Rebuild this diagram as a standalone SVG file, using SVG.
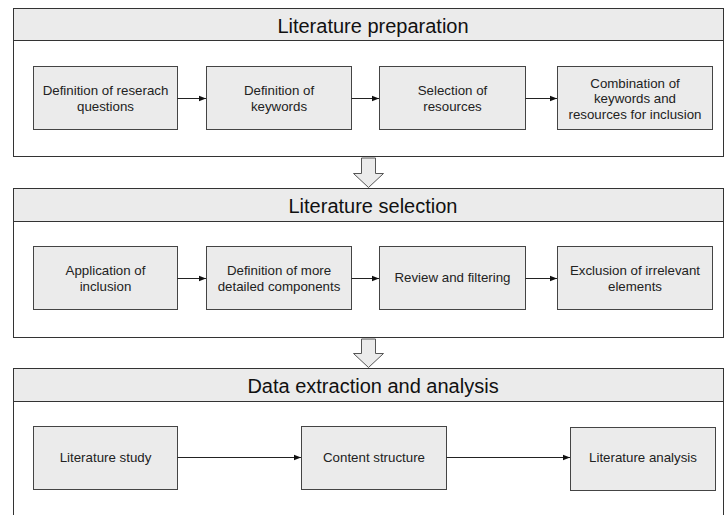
<svg xmlns="http://www.w3.org/2000/svg" width="725" height="515" viewBox="0 0 725 515">
  <defs>
    <marker id="arr" viewBox="0 0 10 10" refX="10" refY="5" markerWidth="7" markerHeight="7" markerUnits="userSpaceOnUse" orient="auto">
      <path d="M0,1 L10,5 L0,9 Z" fill="#111"/>
    </marker>
    <style>
      .frame { fill: #ffffff; stroke: #333; stroke-width: 1; }
      .head { fill: #ebebeb; stroke: #333; stroke-width: 1; }
      .box { fill: #ebebeb; stroke: #444; stroke-width: 1; }
      .title { font-family: "Liberation Sans", Arial, sans-serif; font-size: 20px; fill: #111; text-anchor: middle; }
      .lbl { font-family: "Liberation Sans", Arial, sans-serif; font-size: 13.3px; fill: #222; text-anchor: middle; }
      .link { stroke: #222; stroke-width: 1; fill: none; marker-end: url(#arr); }
      .block { fill: #ebebeb; stroke: #555; stroke-width: 1; }
    </style>
  </defs>

  <!-- Stage 1: Literature preparation -->
  <g id="stage-preparation">
    <rect class="frame" x="13.5" y="8.5" width="710" height="148"/>
    <rect class="head" x="13.5" y="8.5" width="710" height="32"/>
    <text class="title" x="373" y="33">Literature preparation</text>
  </g>
  <g id="n-research-questions">
    <rect class="box" x="33.5" y="66.5" width="144" height="63"/>
    <text class="lbl" x="105.5" y="94.5">Definition of reserach</text>
    <text class="lbl" x="105.5" y="110.5">questions</text>
  </g>
  <g id="n-keywords">
    <rect class="box" x="206.5" y="66.5" width="145" height="63"/>
    <text class="lbl" x="279" y="94.5">Definition of</text>
    <text class="lbl" x="279" y="110.5">keywords</text>
  </g>
  <g id="n-resources">
    <rect class="box" x="379.5" y="66.5" width="146" height="63"/>
    <text class="lbl" x="452.5" y="94.5">Selection of</text>
    <text class="lbl" x="452.5" y="110.5">resources</text>
  </g>
  <g id="n-combination">
    <rect class="box" x="557.5" y="66.5" width="155" height="63"/>
    <text class="lbl" x="635" y="87.5">Combination of</text>
    <text class="lbl" x="635" y="103">keywords and</text>
    <text class="lbl" x="635" y="118.5">resources for inclusion</text>
  </g>

  <!-- Stage 2: Literature selection -->
  <g id="stage-selection">
    <rect class="frame" x="13.5" y="188.5" width="710" height="149"/>
    <rect class="head" x="13.5" y="188.5" width="710" height="33"/>
    <text class="title" x="373" y="212.5">Literature selection</text>
  </g>
  <g id="n-inclusion">
    <rect class="box" x="33.5" y="246.5" width="144" height="63"/>
    <text class="lbl" x="105.5" y="274.5">Application of</text>
    <text class="lbl" x="105.5" y="290.5">inclusion</text>
  </g>
  <g id="n-components">
    <rect class="box" x="206.5" y="246.5" width="145" height="63"/>
    <text class="lbl" x="279" y="274.5">Definition of more</text>
    <text class="lbl" x="279" y="290.5">detailed components</text>
  </g>
  <g id="n-review">
    <rect class="box" x="379.5" y="246.5" width="146" height="63"/>
    <text class="lbl" x="452.5" y="282">Review and filtering</text>
  </g>
  <g id="n-exclusion">
    <rect class="box" x="557.5" y="246.5" width="155" height="63"/>
    <text class="lbl" x="635" y="274.5">Exclusion of irrelevant</text>
    <text class="lbl" x="635" y="290.5">elements</text>
  </g>

  <!-- Stage 3: Data extraction and analysis -->
  <g id="stage-extraction">
    <rect class="frame" x="13.5" y="368.5" width="710" height="170"/>
    <rect class="head" x="13.5" y="368.5" width="710" height="33"/>
    <text class="title" x="373" y="392.5">Data extraction and analysis</text>
  </g>
  <g id="n-study">
    <rect class="box" x="33.5" y="426.5" width="144" height="63"/>
    <text class="lbl" x="105.5" y="462">Literature study</text>
  </g>
  <g id="n-structure">
    <rect class="box" x="301.5" y="426.5" width="145" height="63"/>
    <text class="lbl" x="374" y="462">Content structure</text>
  </g>
  <g id="n-analysis">
    <rect class="box" x="570.5" y="427.5" width="145" height="63"/>
    <text class="lbl" x="643" y="462">Literature analysis</text>
  </g>

  <!-- Connectors -->
  <g id="connectors">
    <line class="link" x1="177.5" y1="98.5" x2="206" y2="98.5"/>
    <line class="link" x1="351.5" y1="98.5" x2="379" y2="98.5"/>
    <line class="link" x1="525.5" y1="98.5" x2="557" y2="98.5"/>
    <line class="link" x1="177.5" y1="278.5" x2="206" y2="278.5"/>
    <line class="link" x1="351.5" y1="278.5" x2="379" y2="278.5"/>
    <line class="link" x1="525.5" y1="278.5" x2="557" y2="278.5"/>
    <line class="link" x1="177.5" y1="457.5" x2="301" y2="457.5"/>
    <line class="link" x1="446.5" y1="457.5" x2="570" y2="457.5"/>
    <!-- stage-to-stage block arrows -->
    <path class="block" d="M361.5,158 L375.5,158 L375.5,173.5 L383.5,173.5 L368.5,187.5 L353.5,173.5 L361.5,173.5 Z"/>
    <path class="block" d="M361.5,339 L375.5,339 L375.5,353.5 L383.5,353.5 L368.5,367.5 L353.5,353.5 L361.5,353.5 Z"/>
  </g>
</svg>
